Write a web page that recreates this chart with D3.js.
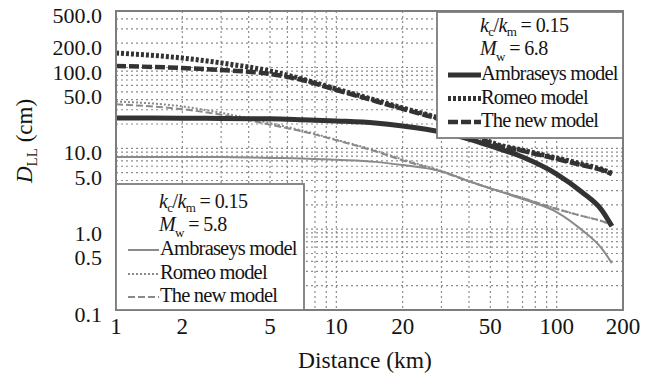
<!DOCTYPE html>
<html>
<head>
<meta charset="utf-8">
<script src="https://cdn.jsdelivr.net/npm/d3@7"></script>
<style>
  html, body { margin: 0; padding: 0; background: #fff; }
  svg { display: block; }
</style>
</head>
<body>
<svg id="chart" width="657" height="374"></svg>
<script>
// Distance from the source (km) at which each model is evaluated
const distances = [1, 2, 3, 5, 7, 10, 15, 20, 30, 40, 50, 70, 100, 130, 160, 178];

// Lateral displacement D_LL (cm), kc/km = 0.15, Mw = 6.8
const ambraseys68 = [23.7, 23.6, 23.4, 23.2, 22.6, 21.8, 20.6, 18.9, 15.9, 13.0, 10.7, 7.8, 4.8, 2.88, 1.73, 1.09];
const romeo68 = [151, 131, 114, 90.5, 72, 54.2, 39.6, 31.6, 23.1, 16.9, 12.0, 9.5, 7.6, 6.4, 5.5, 4.95];
const newModel68 = [104.4, 98.6, 93.1, 83.1, 70, 52.7, 38.5, 30.7, 22.4, 16.4, 11.6, 9.3, 7.4, 6.2, 5.4, 4.8];

// Lateral displacement D_LL (cm), kc/km = 0.15, Mw = 5.8
const ambraseys58 = [7.8, 7.8, 7.8, 7.6, 7.5, 7.2, 6.8, 6.2, 5.2, 3.9, 3.2, 2.36, 1.63, 0.98, 0.58, 0.38];
const romeo58 = [38, 33, 27.5, 20.5, 16.6, 12.8, 9.4, 7.3, 5.25, 3.95, 3.2, 2.43, 1.78, 1.46, 1.26, 1.13];
const newModel58 = [35, 30.5, 26, 19.6, 16.2, 12.6, 9.2, 7.1, 5.15, 3.9, 3.2, 2.43, 1.78, 1.46, 1.26, 1.13];

// Axis ticks
const xTicks = [1, 2, 5, 10, 20, 50, 100, 200];
const yTicks = [500, 200, 100, 50, 10, 5, 1, 0.5, 0.1];
const xGrid = [2, 3, 4, 5, 6, 7, 8, 9, 10, 20, 30, 40, 50, 60, 70, 80, 90, 100];
const yGrid = [0.2, 0.3, 0.4, 0.5, 0.6, 0.7, 0.8, 0.9, 1, 2, 3, 4, 5, 6, 7, 8, 9,
               10, 20, 30, 40, 50, 60, 70, 80, 90, 100, 200, 300, 400];

const legendModels = ["Ambraseys model", "Romeo model", "The new model"];

const serifFont = '"Liberation Serif"';
const svg = d3.select("#chart");
const plot = { left: 116, right: 623, top: 11, bottom: 310 };

const x = d3.scaleLog().domain([1, 200]).range([plot.left, plot.right]);
const y = d3.scaleLog().domain([0.1, 500]).range([plot.bottom, plot.top]);

const gridColor = "#8c8c8c";
const darkColor = "#333333";
const greyColor = "#8a8a8a";
const frameColor = "#7d7d7d";
const textColor = "#141414";

// Grid
const grid = svg.append("g");
grid.selectAll("line.v").data(xGrid).join("line")
  .attr("x1", d => x(d)).attr("x2", d => x(d))
  .attr("y1", plot.top).attr("y2", plot.bottom)
  .attr("stroke", gridColor).attr("stroke-width", 1.2).attr("stroke-dasharray", "2,3");
grid.selectAll("line.h").data(yGrid).join("line")
  .attr("x1", plot.left).attr("x2", plot.right)
  .attr("y1", d => y(d)).attr("y2", d => y(d))
  .attr("stroke", gridColor).attr("stroke-width", 1.2).attr("stroke-dasharray", "2,3");

// Series
const series = [
  { values: ambraseys58, color: greyColor, width: 2, dash: null },
  { values: romeo58, color: greyColor, width: 2, dash: "2,2" },
  { values: newModel58, color: greyColor, width: 2, dash: "7,3" },
  { values: ambraseys68, color: darkColor, width: 5, dash: null },
  { values: newModel68, color: darkColor, width: 4.5, dash: "10,3" },
  { values: romeo68, color: darkColor, width: 5, dash: "3,2" }
];

const line = d3.line()
  .x(d => x(d[0]))
  .y(d => y(d[1]))
  .curve(d3.curveMonotoneX);

const curves = svg.append("g");
series.forEach(s => {
  curves.append("path")
    .attr("d", line(distances.map((d, i) => [d, s.values[i]])))
    .attr("fill", "none")
    .attr("stroke", s.color)
    .attr("stroke-width", s.width)
    .attr("stroke-dasharray", s.dash)
    .attr("stroke-linejoin", "round");
});

// Plot frame
svg.append("rect")
  .attr("x", plot.left).attr("y", plot.top)
  .attr("width", plot.right - plot.left).attr("height", plot.bottom - plot.top)
  .attr("fill", "none").attr("stroke", frameColor).attr("stroke-width", 2);

// Text helper: every label carries its own serif face
function addText(parent, size) {
  return parent.append("text")
    .style("font-family", serifFont)
    .attr("font-size", size)
    .attr("fill", textColor);
}

// Tick labels
const yLabels = svg.append("g");
yTicks.forEach(v => {
  addText(yLabels, 22)
    .attr("x", 102).attr("y", y(v) + 12)
    .attr("text-anchor", "end")
    .text(d3.format(".1f")(v));
});

const xLabels = svg.append("g");
xTicks.forEach(v => {
  addText(xLabels, 23)
    .attr("x", x(v)).attr("y", 334)
    .attr("text-anchor", "middle")
    .text(v);
});

// Axis titles
addText(svg, 23.5)
  .attr("x", 365).attr("y", 368)
  .attr("text-anchor", "middle")
  .text("Distance (km)");

const yTitle = addText(svg, 23)
  .attr("transform", "translate(32,141) rotate(-90)")
  .attr("text-anchor", "middle");
yTitle.append("tspan").attr("font-style", "italic").text("D");
yTitle.append("tspan").attr("font-size", 15).attr("dy", 5).text("LL");
yTitle.append("tspan").attr("dy", -5).text(" (cm)");

// Legends
function legend(box, mw, styles, rows) {
  const g = svg.append("g");
  g.append("rect")
    .attr("x", box.x).attr("y", box.y).attr("width", box.w).attr("height", box.h)
    .attr("fill", "#fff").attr("stroke", frameColor).attr("stroke-width", 1.8);

  const t1 = addText(g, 20).attr("x", box.tx).attr("y", rows[0]).attr("letter-spacing", -0.6);
  t1.append("tspan").attr("font-style", "italic").text("k");
  t1.append("tspan").attr("font-size", 13).attr("dy", 4).text("c");
  t1.append("tspan").attr("dy", -4).text("/");
  t1.append("tspan").attr("font-style", "italic").text("k");
  t1.append("tspan").attr("font-size", 13).attr("dy", 4).text("m");
  t1.append("tspan").attr("dy", -4).text(" = 0.15");

  const t2 = addText(g, 20).attr("x", box.tx).attr("y", rows[1]).attr("letter-spacing", -0.6);
  t2.append("tspan").attr("font-style", "italic").text("M");
  t2.append("tspan").attr("font-size", 13).attr("dy", 6).text("w");
  t2.append("tspan").attr("dy", -6).text(" = " + mw);

  legendModels.forEach((name, i) => {
    const yy = rows[i + 2];
    const st = styles[i];
    g.append("line")
      .attr("x1", box.sx1).attr("x2", box.sx2)
      .attr("y1", yy - 5).attr("y2", yy - 5)
      .attr("stroke", st.color).attr("stroke-width", st.width)
      .attr("stroke-dasharray", st.dash);
    addText(g, 20.5).attr("x", box.tx + 1).attr("y", yy)
      .attr("letter-spacing", -0.8)
      .text(name);
  });
}

legend({ x: 437, y: 12, w: 186, h: 126, tx: 480, sx1: 448, sx2: 481 }, "6.8",
  [series[3], series[5], series[4]], [32, 55, 80, 103.5, 127]);
legend({ x: 116, y: 184, w: 188, h: 126, tx: 159, sx1: 128, sx2: 159 }, "5.8",
  [series[0], series[1], series[2]], [208, 231, 255, 279, 302]);
</script>
</body>
</html>
